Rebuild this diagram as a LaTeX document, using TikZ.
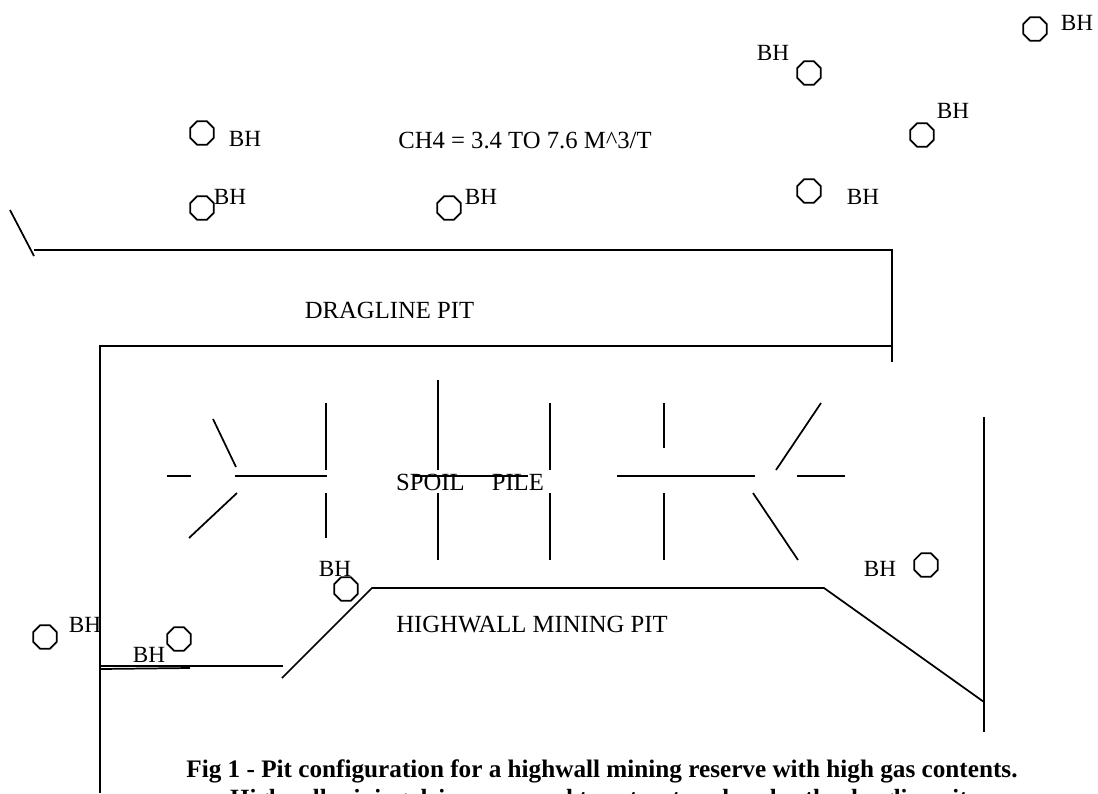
\documentclass[tikz,border=0pt]{standalone}
\usepackage{fontspec}
\setmainfont{Liberation Serif}
\usetikzlibrary{shapes.geometric}
\tikzset{
  borehole/.style={draw, line width=1.3pt, regular polygon, regular polygon sides=8, inner sep=0pt, minimum size=19pt},
  lbl/.style={inner sep=0pt, anchor=base, font=\fontsize{17.4}{20}\selectfont},
  longlbl/.style={lbl, font=\fontsize{18.5}{20}\selectfont},
  capt/.style={inner sep=0pt, anchor=base, font=\fontsize{18.9}{22}\selectfont\bfseries},
  wall/.style={line width=1.3pt}
}
\begin{document}
\begin{tikzpicture}[x=0.75pt,y=-0.75pt]
  \useasboundingbox (0,0) rectangle (1098,793);
  \clip (0,0) rectangle (1098,793);
  % boreholes
  \node[borehole] (bhA) at (1035,29) {};
  \node[borehole] (bhB) at (809,73) {};
  \node[borehole] (bhC) at (922,135) {};
  \node[borehole] (bhD) at (809,191) {};
  \node[borehole] (bhE) at (202,133) {};
  \node[borehole] (bhF) at (202,208) {};
  \node[borehole] (bhG) at (449,208) {};
  \node[borehole] (bhH) at (346,589) {};
  \node[borehole] (bhI) at (926,565) {};
  \node[borehole] (bhJ) at (45,637) {};
  \node[borehole] (bhK) at (179,639) {};
  \path (1077,30) node[lbl] (lblA) {BH};
  \path (773,60) node[lbl] (lblB) {BH};
  \path (953,118) node[lbl] (lblC) {BH};
  \path (863,204) node[lbl] (lblD) {BH};
  \path (245,146) node[lbl] (lblE) {BH};
  \path (230,204) node[lbl] (lblF) {BH};
  \path (481,204) node[lbl] (lblG) {BH};
  \path (335,576) node[lbl] (lblH) {BH};
  \path (880,576) node[lbl] (lblI) {BH};
  \path (85,632) node[lbl] (lblJ) {BH};
  \path (149,662) node[lbl] (lblK) {BH};
  % labels
  \path (525,148) node[longlbl] (gas) {CH4 = 3.4 TO 7.6 M\textasciicircum 3/T};
  \path (389.5,318) node[longlbl] (dragline) {DRAGLINE PIT};
  \path (470,490) node[longlbl] (spoil) {SPOIL\hspace{1.1em}PILE};
  \path (532,632) node[longlbl] (highwall) {HIGHWALL MINING PIT};
  % pits
  \draw[wall] (10,210)--(34,256);
  \draw[wall] (34,250)--(892,250)--(892,362);
  \draw[wall] (100,793)--(100,346)--(892,346);
  \draw[wall] (984,417)--(984,732);
  \draw[wall] (282,678)--(372,588)--(824,588)--(984,702);
  \draw[wall] (100,666)--(283,666);
  \draw[wall] (100,669)--(190,668);
  % spoil pile
  \draw[wall] (213,419)--(236,467);
  \draw[wall] (167,476)--(191,476);
  \draw[wall] (235,476)--(327,476);
  \draw[wall] (189,538)--(237,493);
  \draw[wall] (326,403)--(326,470);
  \draw[wall] (326,493)--(326,538);
  \draw[wall] (438,380)--(438,470);
  \draw[wall] (438,493)--(438,560);
  \draw[wall] (413,476)--(528,476);
  \draw[wall] (550,403)--(550,470);
  \draw[wall] (550,493)--(550,560);
  \draw[wall] (664,403)--(664,448);
  \draw[wall] (664,493)--(664,560);
  \draw[wall] (617,476)--(755,476);
  \draw[wall] (776,470)--(821,403);
  \draw[wall] (797,476)--(845,476);
  \draw[wall] (753,493)--(798,560);
  % caption
  \path (602,777) node[capt] (captA) {Fig 1 - Pit configuration for a highwall mining reserve with high gas contents.};
  \path (602,806) node[capt, font=\fontsize{18.6}{22}\selectfont\bfseries] (captB) {Highwall mining drives are used to extract coal under the dragline pit.};
\end{tikzpicture}
\end{document}
